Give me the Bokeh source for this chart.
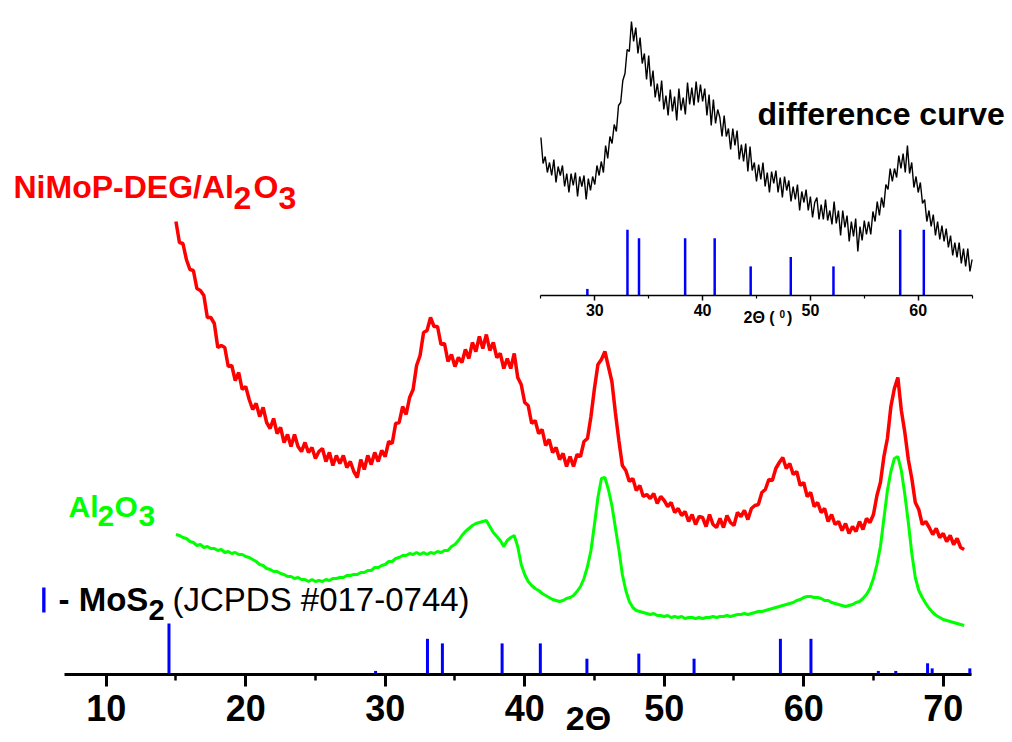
import numpy as np
from bokeh.plotting import figure
from bokeh.models import Range1d, LinearAxis, FixedTicker, Label, BoxAnnotation
from bokeh.embed import file_html
from bokeh.resources import INLINE

# ---------------- data ----------------
SCAN_START = 15.0      # deg 2theta, first point of both measured patterns
SCAN_STEP = 0.25       # deg
# NiMoP-DEG/Al2O3 pattern (a.u., offset upward)
NIMOP = [
    453, 432, 431, 415, 405, 404, 386, 384, 379, 357, 357, 351, 327, 329, 327, 308,
    309, 294, 302, 285, 288, 275, 265, 271, 258, 267, 252, 246, 256, 241, 247, 232,
    240, 228, 240, 228, 223, 232, 222, 227, 216, 223, 226, 213, 222, 209, 219, 211,
    219, 207, 213, 203, 197, 215, 205, 219, 210, 222, 213, 224, 218, 233, 231, 251,
    252, 268, 260, 277, 285, 309, 319, 342, 344, 357, 348, 348, 330, 331, 313, 320,
    308, 317, 312, 325, 316, 332, 323, 338, 326, 340, 324, 332, 317, 321, 306, 316,
    306, 321, 297, 290, 272, 269, 251, 254, 241, 245, 229, 235, 222, 227, 215, 221,
    208, 218, 208, 220, 218, 233, 236, 258, 286, 310, 315, 323, 308, 293, 262, 234,
    209, 204, 193, 196, 184, 189, 178, 180, 176, 181, 171, 178, 174, 168, 172, 162,
    166, 159, 163, 153, 160, 150, 158, 157, 148, 160, 150, 147, 156, 147, 159, 152,
    149, 162, 158, 164, 155, 166, 169, 170, 182, 185, 195, 194, 206, 212, 217, 206,
    211, 200, 203, 189, 192, 178, 182, 168, 172, 162, 166, 153, 160, 150, 153, 144,
    151, 141, 148, 143, 153, 145, 156, 152, 160, 179, 192, 218, 236, 268, 286, 297,
    264, 242, 215, 196, 172, 165, 150, 153, 147, 140, 146, 137, 141, 133, 139, 130,
    136, 127, 125,
]
# Al2O3 support pattern (a.u.)
AL2O3 = [
    140, 139, 137, 136, 133, 132, 129, 130, 127, 128, 126, 126, 124, 125, 122, 123,
    121, 122, 120, 120, 118, 117, 115, 113, 110, 109, 106, 105, 103, 103, 101, 100,
    98, 98, 96, 97, 95, 95, 93, 95, 93, 94, 93, 95, 94, 96, 96, 97,
    97, 99, 99, 100, 100, 102, 102, 104, 104, 107, 107, 109, 110, 113, 113, 116,
    117, 119, 119, 121, 120, 122, 120, 122, 120, 122, 121, 123, 122, 124, 124, 128,
    130, 134, 139, 143, 146, 149, 151, 152, 153, 154, 148, 142, 138, 134, 128, 134,
    137, 139, 128, 110, 100, 93, 89, 86, 84, 81, 79, 77, 75, 74, 73, 74,
    76, 77, 79, 83, 88, 96, 108, 124, 150, 177, 196, 197, 185, 169, 147, 125,
    100, 84, 73, 67, 64, 63, 62, 61, 60, 61, 59, 59, 58, 59, 57, 58,
    57, 58, 56, 57, 57, 56, 57, 56, 57, 57, 58, 57, 58, 58, 59, 58,
    59, 60, 60, 61, 60, 61, 62, 63, 63, 64, 65, 66, 67, 68, 69, 70,
    71, 72, 74, 75, 77, 78, 78, 77, 77, 76, 74, 74, 72, 71, 70, 69,
    68, 69, 70, 72, 73, 76, 80, 86, 96, 110, 128, 156, 184, 203, 216, 218,
    204, 180, 152, 121, 97, 84, 77, 71, 66, 62, 59, 57, 55, 54, 53, 52,
    51, 50, 49,
]
# difference curve (inset), a.u.
DIFF_START = 25.0
DIFF_STEP = 0.2
DIFF = [
    158, 132, 139, 123, 133, 120, 136, 113, 129, 120, 130, 109, 122, 103, 122,
    110, 123, 99, 119, 109, 120, 96, 117, 105, 119, 111, 130, 120, 134, 123,
    150, 137, 159, 152, 171, 164, 190, 193, 215, 222, 246, 244, 274, 254, 268,
    242, 258, 232, 242, 216, 240, 209, 225, 198, 212, 194, 215, 186, 200, 180,
    206, 184, 199, 175, 207, 185, 198, 181, 213, 191, 208, 190, 214, 193, 211,
    194, 207, 180, 201, 170, 196, 172, 186, 178, 159, 180, 159, 167, 146, 167,
    150, 165, 136, 151, 134, 152, 124, 149, 125, 133, 114, 131, 116, 133, 109,
    123, 103, 124, 112, 125, 103, 118, 98, 119, 105, 115, 94, 109, 96, 111,
    85, 104, 93, 106, 85, 99, 78, 93, 98, 76, 91, 76, 96, 75, 85,
    71, 94, 72, 85, 60, 85, 68, 80, 54, 74, 59, 77, 44, 69, 55,
    75, 61, 74, 61, 84, 74, 94, 80, 98, 88, 111, 106, 127, 114, 127,
    118, 140, 127, 142, 123, 150, 122, 133, 108, 119, 103, 113, 92, 96, 74,
    85, 69, 81, 60, 74, 56, 70, 54, 67, 48, 60, 40, 53, 38, 53,
    32, 47, 29, 47, 24, 36,
]
# MoS2 reference lines (JCPDS #017-0744): position (deg) and relative intensity (%)
MOS2_POS = [14.50, 29.31, 33.03, 34.10, 38.38, 41.12, 44.46, 48.18, 52.14,
            58.33, 60.52, 65.35, 66.60, 68.88, 69.21, 71.91]
MOS2_INT = [100, 7, 70, 61, 61, 61, 31, 41, 31, 70, 70, 7, 7, 22, 12, 12]

MAIN_TICKS = [10, 20, 30, 40, 50, 60, 70]
MAIN_MINOR = [15, 25, 35, 45, 55, 65]
INSET_TICKS = [30, 40, 50, 60]
INSET_MINOR = [25, 35, 45, 55, 65]

# ---------------- layout ----------------
W, H = 1012, 742
MAIN_PX_PER_DEG = 13.95
MAIN_X10_PX = 105.7
MAIN_AXIS_PX = 674
INSET_PX_PER_DEG = 10.78
INSET_X30_PX = 594.3
INSET_AXIS_PX = 295
BAR_SCALE_MAIN = 0.51
BAR_SCALE_INSET = 0.939
FONT = "Liberation Sans"

mx0 = 10 - MAIN_X10_PX / MAIN_PX_PER_DEG
p = figure(width=W, height=H,
           x_range=Range1d(mx0, mx0 + W / MAIN_PX_PER_DEG),
           y_range=Range1d(-(H - MAIN_AXIS_PX), MAIN_AXIS_PX),
           x_axis_type=None, y_axis_type=None,
           output_backend="svg", toolbar_location=None, min_border=0)
p.outline_line_color = None
p.background_fill_color = "white"
p.border_fill_color = "white"

ix0 = 30 - INSET_X30_PX / INSET_PX_PER_DEG
p.extra_x_ranges = {"ix": Range1d(ix0, ix0 + W / INSET_PX_PER_DEG)}
p.extra_y_ranges = {"iy": Range1d(-(H - INSET_AXIS_PX), INSET_AXIS_PX)}

# main axis
ax = LinearAxis(fixed_location=0, bounds=(7, 72),
                ticker=FixedTicker(ticks=MAIN_TICKS, minor_ticks=MAIN_MINOR))
ax.axis_line_width = 3
ax.axis_line_color = "black"
ax.major_tick_line_width = 3
ax.major_tick_out = 12
ax.major_tick_in = 0
ax.minor_tick_line_width = 2.5
ax.minor_tick_out = 6
ax.minor_tick_in = 0
ax.major_label_text_font = FONT
ax.major_label_text_font_size = "36px"
ax.major_label_text_font_style = "bold"
ax.major_label_text_color = "black"
ax.major_label_standoff = 8
p.add_layout(ax, "below")

# inset axis
iax = LinearAxis(x_range_name="ix", y_range_name="iy", fixed_location=0, bounds=(25, 65),
                 ticker=FixedTicker(ticks=INSET_TICKS, minor_ticks=INSET_MINOR))
iax.axis_line_width = 1.5
iax.major_tick_line_width = 1.5
iax.major_tick_out = 5
iax.major_tick_in = 0
iax.minor_tick_line_width = 1.2
iax.minor_tick_out = 3
iax.minor_tick_in = 0
iax.major_label_text_font = FONT
iax.major_label_text_font_size = "16px"
iax.major_label_text_font_style = "bold"
iax.major_label_text_color = "black"
iax.major_label_standoff = 3
p.add_layout(iax, "below")

# curves
rx = SCAN_START + SCAN_STEP * np.arange(len(NIMOP))
gx = SCAN_START + SCAN_STEP * np.arange(len(AL2O3))
dx = DIFF_START + DIFF_STEP * np.arange(len(DIFF))
p.line(gx, AL2O3, line_color="#00ff00", line_width=3)
p.line(rx, NIMOP, line_color="#ff0000", line_width=3.5)
p.line(dx, DIFF, line_color="black", line_width=1.4, x_range_name="ix", y_range_name="iy")

# sticks
pos = np.array(MOS2_POS)
inten = np.array(MOS2_INT, dtype=float)
p.segment(x0=pos, y0=0, x1=pos, y1=inten * BAR_SCALE_MAIN, line_color="#0000ff", line_width=3)
sel = (pos > 25) & (pos < 65)
p.segment(x0=pos[sel], y0=0, x1=pos[sel], y1=inten[sel] * BAR_SCALE_INSET,
          line_color="#0000ff", line_width=2.5, x_range_name="ix", y_range_name="iy")


def lab(x, y, text, size, color="black", style="bold", align="left"):
    p.add_layout(Label(x=x, y=y, text=text, text_font=FONT, text_font_size=size,
                       text_font_style=style, text_color=color, text_align=align,
                       text_baseline="alphabetic"))


RED = "#ff0000"
GREEN = "#00ff00"
lab(3.355, 488, "NiMoP-DEG/Al", "32px", RED)
lab(19.13, 477, "2", "32px", RED)
lab(20.56, 488, "O", "32px", RED)
lab(22.35, 477, "3", "32px", RED)

lab(7.30, 168, "Al", "30px", GREEN)
lab(9.38, 159, "2", "30px", GREEN)
lab(10.60, 168, "O", "30px", GREEN)
lab(12.32, 159, "3", "30px", GREEN)

p.add_layout(BoxAnnotation(left=5.41, right=5.65, bottom=62, top=87,
                           fill_color="#0000ff", fill_alpha=1, line_color=None))
lab(6.58, 75, "- MoS", "33px")
lab(13.03, 65, "2", "29px")
lab(14.75, 75, "(JCPDS #017-0744)", "33px", style="normal")

lab(56.69, 561, "difference curve", "32px")
lab(44.57, -43, "2\u0398", "34px", align="center")

lab(55.69, 357, "2\u0398 (", "16px")
lab(58.27, 361, "0", "10px")
lab(58.80, 357, ")", "16px")

open("out.html", "w").write(file_html(p, INLINE))
